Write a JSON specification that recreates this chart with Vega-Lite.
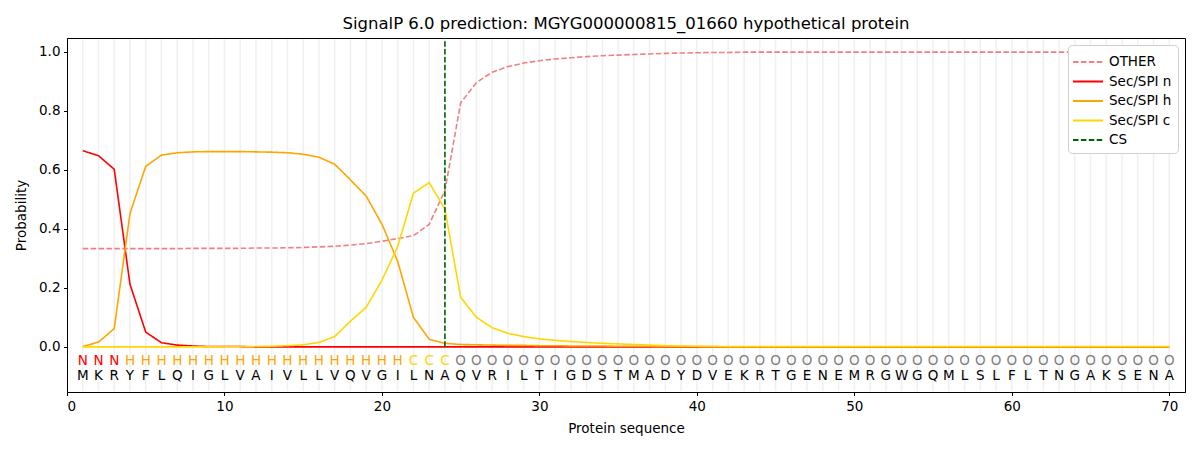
{
  "$schema": "https://vega.github.io/schema/vega-lite/v6.json",
  "width": 1118,
  "height": 354,
  "autosize": {"type": "none"},
  "padding": {"left": 67, "top": 38, "right": 15, "bottom": 58},
  "background": "white",
  "title": {
    "text": "SignalP 6.0 prediction: MGYG000000815_01660 hypothetical protein",
    "font": "DejaVu Sans",
    "fontSize": 16.5,
    "fontWeight": "normal",
    "color": "black",
    "anchor": "middle",
    "offset": 5
  },
  "config": {
    "view": {"stroke": "black", "strokeWidth": 1},
    "axis": {
      "grid": false,
      "domainColor": "black",
      "tickColor": "black",
      "tickSize": 3.5,
      "labelPadding": 3.5,
      "labelFont": "DejaVu Sans",
      "labelFontSize": 13.5,
      "labelColor": "black",
      "titleFont": "DejaVu Sans",
      "titleFontSize": 13.5,
      "titleFontWeight": "normal",
      "titleColor": "black"
    },
    "legend": {
      "labelFont": "DejaVu Sans",
      "labelFontSize": 13.5,
      "labelColor": "black"
    }
  },
  "datasets": {
    "seq": [
      {"pos": 1, "aa": "M", "lab": "N", "other": 0.333, "n": 0.665, "h": 0.001, "c": 0.0},
      {"pos": 2, "aa": "K", "lab": "N", "other": 0.333, "n": 0.648, "h": 0.016, "c": 0.0},
      {"pos": 3, "aa": "R", "lab": "N", "other": 0.333, "n": 0.602, "h": 0.062, "c": 0.0},
      {"pos": 4, "aa": "Y", "lab": "H", "other": 0.333, "n": 0.212, "h": 0.452, "c": 0.0},
      {"pos": 5, "aa": "F", "lab": "H", "other": 0.333, "n": 0.05, "h": 0.612, "c": 0.0},
      {"pos": 6, "aa": "L", "lab": "H", "other": 0.333, "n": 0.014, "h": 0.65, "c": 0.0},
      {"pos": 7, "aa": "Q", "lab": "H", "other": 0.333, "n": 0.006, "h": 0.658, "c": 0.0},
      {"pos": 8, "aa": "I", "lab": "H", "other": 0.334, "n": 0.003, "h": 0.661, "c": 0.0},
      {"pos": 9, "aa": "G", "lab": "H", "other": 0.334, "n": 0.001, "h": 0.662, "c": 0.0},
      {"pos": 10, "aa": "L", "lab": "H", "other": 0.334, "n": 0.001, "h": 0.662, "c": 0.001},
      {"pos": 11, "aa": "V", "lab": "H", "other": 0.334, "n": 0.001, "h": 0.662, "c": 0.001},
      {"pos": 12, "aa": "A", "lab": "H", "other": 0.335, "n": 0.0, "h": 0.661, "c": 0.001},
      {"pos": 13, "aa": "I", "lab": "H", "other": 0.335, "n": 0.0, "h": 0.66, "c": 0.002},
      {"pos": 14, "aa": "V", "lab": "H", "other": 0.336, "n": 0.0, "h": 0.658, "c": 0.004},
      {"pos": 15, "aa": "L", "lab": "H", "other": 0.337, "n": 0.0, "h": 0.653, "c": 0.007},
      {"pos": 16, "aa": "L", "lab": "H", "other": 0.339, "n": 0.0, "h": 0.643, "c": 0.015},
      {"pos": 17, "aa": "V", "lab": "H", "other": 0.341, "n": 0.0, "h": 0.619, "c": 0.035},
      {"pos": 18, "aa": "Q", "lab": "H", "other": 0.345, "n": 0.0, "h": 0.566, "c": 0.087},
      {"pos": 19, "aa": "V", "lab": "H", "other": 0.35, "n": 0.0, "h": 0.511, "c": 0.134},
      {"pos": 20, "aa": "G", "lab": "H", "other": 0.358, "n": 0.0, "h": 0.416, "c": 0.226},
      {"pos": 21, "aa": "I", "lab": "H", "other": 0.367, "n": 0.0, "h": 0.29, "c": 0.34},
      {"pos": 22, "aa": "L", "lab": "C", "other": 0.377, "n": 0.0, "h": 0.1, "c": 0.521},
      {"pos": 23, "aa": "N", "lab": "C", "other": 0.415, "n": 0.0, "h": 0.026, "c": 0.557},
      {"pos": 24, "aa": "A", "lab": "C", "other": 0.53, "n": 0.0, "h": 0.012, "c": 0.467},
      {"pos": 25, "aa": "Q", "lab": "O", "other": 0.827, "n": 0.0, "h": 0.008, "c": 0.168},
      {"pos": 26, "aa": "V", "lab": "O", "other": 0.896, "n": 0.0, "h": 0.007, "c": 0.1},
      {"pos": 27, "aa": "R", "lab": "O", "other": 0.931, "n": 0.0, "h": 0.006, "c": 0.065},
      {"pos": 28, "aa": "I", "lab": "O", "other": 0.95, "n": 0.0, "h": 0.005, "c": 0.046},
      {"pos": 29, "aa": "L", "lab": "O", "other": 0.962, "n": 0.0, "h": 0.005, "c": 0.035},
      {"pos": 30, "aa": "T", "lab": "O", "other": 0.97, "n": 0.0, "h": 0.004, "c": 0.027},
      {"pos": 31, "aa": "I", "lab": "O", "other": 0.976, "n": 0.0, "h": 0.004, "c": 0.022},
      {"pos": 32, "aa": "G", "lab": "O", "other": 0.98, "n": 0.0, "h": 0.003, "c": 0.018},
      {"pos": 33, "aa": "D", "lab": "O", "other": 0.984, "n": 0.0, "h": 0.003, "c": 0.015},
      {"pos": 34, "aa": "S", "lab": "O", "other": 0.987, "n": 0.0, "h": 0.003, "c": 0.012},
      {"pos": 35, "aa": "T", "lab": "O", "other": 0.989, "n": 0.0, "h": 0.002, "c": 0.01},
      {"pos": 36, "aa": "M", "lab": "O", "other": 0.991, "n": 0.0, "h": 0.002, "c": 0.008},
      {"pos": 37, "aa": "A", "lab": "O", "other": 0.993, "n": 0.0, "h": 0.002, "c": 0.006},
      {"pos": 38, "aa": "D", "lab": "O", "other": 0.995, "n": 0.0, "h": 0.001, "c": 0.004},
      {"pos": 39, "aa": "Y", "lab": "O", "other": 0.996, "n": 0.0, "h": 0.001, "c": 0.003},
      {"pos": 40, "aa": "D", "lab": "O", "other": 0.997, "n": 0.0, "h": 0.001, "c": 0.002},
      {"pos": 41, "aa": "V", "lab": "O", "other": 0.998, "n": 0.0, "h": 0.001, "c": 0.001},
      {"pos": 42, "aa": "E", "lab": "O", "other": 0.998, "n": 0.0, "h": 0.0, "c": 0.001},
      {"pos": 43, "aa": "K", "lab": "O", "other": 0.999, "n": 0.0, "h": 0.0, "c": 0.001},
      {"pos": 44, "aa": "R", "lab": "O", "other": 0.999, "n": 0.0, "h": 0.0, "c": 0.001},
      {"pos": 45, "aa": "T", "lab": "O", "other": 0.999, "n": 0.0, "h": 0.0, "c": 0.001},
      {"pos": 46, "aa": "G", "lab": "O", "other": 0.999, "n": 0.0, "h": 0.0, "c": 0.001},
      {"pos": 47, "aa": "E", "lab": "O", "other": 0.999, "n": 0.0, "h": 0.0, "c": 0.001},
      {"pos": 48, "aa": "N", "lab": "O", "other": 0.999, "n": 0.0, "h": 0.0, "c": 0.001},
      {"pos": 49, "aa": "E", "lab": "O", "other": 0.999, "n": 0.0, "h": 0.0, "c": 0.001},
      {"pos": 50, "aa": "M", "lab": "O", "other": 0.999, "n": 0.0, "h": 0.0, "c": 0.001},
      {"pos": 51, "aa": "R", "lab": "O", "other": 0.999, "n": 0.0, "h": 0.0, "c": 0.001},
      {"pos": 52, "aa": "G", "lab": "O", "other": 0.999, "n": 0.0, "h": 0.0, "c": 0.001},
      {"pos": 53, "aa": "W", "lab": "O", "other": 0.999, "n": 0.0, "h": 0.0, "c": 0.001},
      {"pos": 54, "aa": "G", "lab": "O", "other": 0.999, "n": 0.0, "h": 0.0, "c": 0.001},
      {"pos": 55, "aa": "Q", "lab": "O", "other": 0.999, "n": 0.0, "h": 0.0, "c": 0.001},
      {"pos": 56, "aa": "M", "lab": "O", "other": 0.999, "n": 0.0, "h": 0.0, "c": 0.001},
      {"pos": 57, "aa": "L", "lab": "O", "other": 0.999, "n": 0.0, "h": 0.0, "c": 0.001},
      {"pos": 58, "aa": "S", "lab": "O", "other": 0.999, "n": 0.0, "h": 0.0, "c": 0.001},
      {"pos": 59, "aa": "L", "lab": "O", "other": 0.999, "n": 0.0, "h": 0.0, "c": 0.001},
      {"pos": 60, "aa": "F", "lab": "O", "other": 0.999, "n": 0.0, "h": 0.0, "c": 0.001},
      {"pos": 61, "aa": "L", "lab": "O", "other": 0.999, "n": 0.0, "h": 0.0, "c": 0.001},
      {"pos": 62, "aa": "T", "lab": "O", "other": 0.999, "n": 0.0, "h": 0.0, "c": 0.001},
      {"pos": 63, "aa": "N", "lab": "O", "other": 0.999, "n": 0.0, "h": 0.0, "c": 0.001},
      {"pos": 64, "aa": "G", "lab": "O", "other": 0.999, "n": 0.0, "h": 0.0, "c": 0.001},
      {"pos": 65, "aa": "A", "lab": "O", "other": 0.999, "n": 0.0, "h": 0.0, "c": 0.001},
      {"pos": 66, "aa": "K", "lab": "O", "other": 0.999, "n": 0.0, "h": 0.0, "c": 0.001},
      {"pos": 67, "aa": "S", "lab": "O", "other": 0.999, "n": 0.0, "h": 0.0, "c": 0.001},
      {"pos": 68, "aa": "E", "lab": "O", "other": 0.999, "n": 0.0, "h": 0.0, "c": 0.001},
      {"pos": 69, "aa": "N", "lab": "O", "other": 0.999, "n": 0.0, "h": 0.0, "c": 0.001},
      {"pos": 70, "aa": "A", "lab": "O", "other": 0.999, "n": 0.0, "h": 0.0, "c": 0.001}
    ],
    "cleavage": [{"key": "cs", "pos": 24}]
  },
  "layer": [
    {
      "data": {"name": "seq"},
      "mark": {"type": "rule", "color": "#f0f0f0", "strokeWidth": 1.5},
      "encoding": {
        "x": {"field": "pos", "type": "quantitative"},
        "y": {"datum": -0.15},
        "y2": {"datum": 1.044}
      }
    },
    {
      "data": {"name": "seq"},
      "transform": [{"fold": ["other", "n", "h", "c"], "as": ["key", "prob"]}],
      "mark": {"type": "line", "strokeWidth": 1.6, "clip": true},
      "encoding": {
        "x": {
          "field": "pos",
          "type": "quantitative",
          "scale": {"domain": [0, 71], "nice": false, "zero": false},
          "axis": {"values": [0, 10, 20, 30, 40, 50, 60, 70], "title": "Protein sequence", "titlePadding": 9}
        },
        "y": {
          "field": "prob",
          "type": "quantitative",
          "scale": {"domain": [-0.153, 1.047], "nice": false, "zero": false},
          "axis": {"values": [0, 0.2, 0.4, 0.6, 0.8, 1.0], "format": ".1f", "title": "Probability", "titlePadding": 10}
        },
        "color": {
          "field": "key",
          "type": "nominal",
          "title": null,
          "scale": {
            "domain": ["other", "n", "h", "c", "cs"],
            "range": ["#f08080", "#ff0000", "#ffa500", "#ffd700", "#006400"]
          },
          "legend": {
            "orient": "top-right",
            "offset": 7,
            "padding": 6,
            "rowPadding": 1.5,
            "symbolType": "M-1.5,0H1.5",
            "symbolSize": 400,
            "symbolStrokeWidth": 2,
            "symbolOffset": 3,
            "labelOffset": 10,
            "strokeColor": "#d0d0d0",
            "fillColor": "white",
            "cornerRadius": 4,
            "labelExpr": "{'other': 'OTHER', 'n': 'Sec/SPI n', 'h': 'Sec/SPI h', 'c': 'Sec/SPI c', 'cs': 'CS'}[datum.label]"
          }
        },
        "strokeDash": {
          "field": "key",
          "type": "nominal",
          "title": null,
          "scale": {
            "domain": ["other", "n", "h", "c", "cs"],
            "range": [[5.5, 2.4], [1, 0], [1, 0], [1, 0], [5.5, 2.4]]
          }
        }
      }
    },
    {
      "data": {"name": "cleavage"},
      "mark": {"type": "rule", "strokeWidth": 1.6},
      "encoding": {
        "x": {"field": "pos", "type": "quantitative"},
        "y": {"datum": 0},
        "y2": {"datum": 1.047},
        "color": {"field": "key", "type": "nominal", "title": null},
        "strokeDash": {"field": "key", "type": "nominal", "title": null}
      }
    },
    {
      "data": {"name": "seq"},
      "mark": {"type": "text", "font": "DejaVu Sans", "fontSize": 13.5, "baseline": "middle", "align": "center"},
      "encoding": {
        "x": {"field": "pos", "type": "quantitative"},
        "y": {"datum": -0.047},
        "text": {"field": "lab"},
        "color": {
          "condition": [
            {"test": "datum.lab === 'N'", "value": "#ff0000"},
            {"test": "datum.lab === 'H'", "value": "#ffa500"},
            {"test": "datum.lab === 'C'", "value": "#ffd700"}
          ],
          "value": "#808080"
        }
      }
    },
    {
      "data": {"name": "seq"},
      "mark": {"type": "text", "font": "DejaVu Sans", "fontSize": 13.5, "baseline": "middle", "align": "center", "color": "black"},
      "encoding": {
        "x": {"field": "pos", "type": "quantitative"},
        "y": {"datum": -0.098},
        "text": {"field": "aa"}
      }
    }
  ]
}
